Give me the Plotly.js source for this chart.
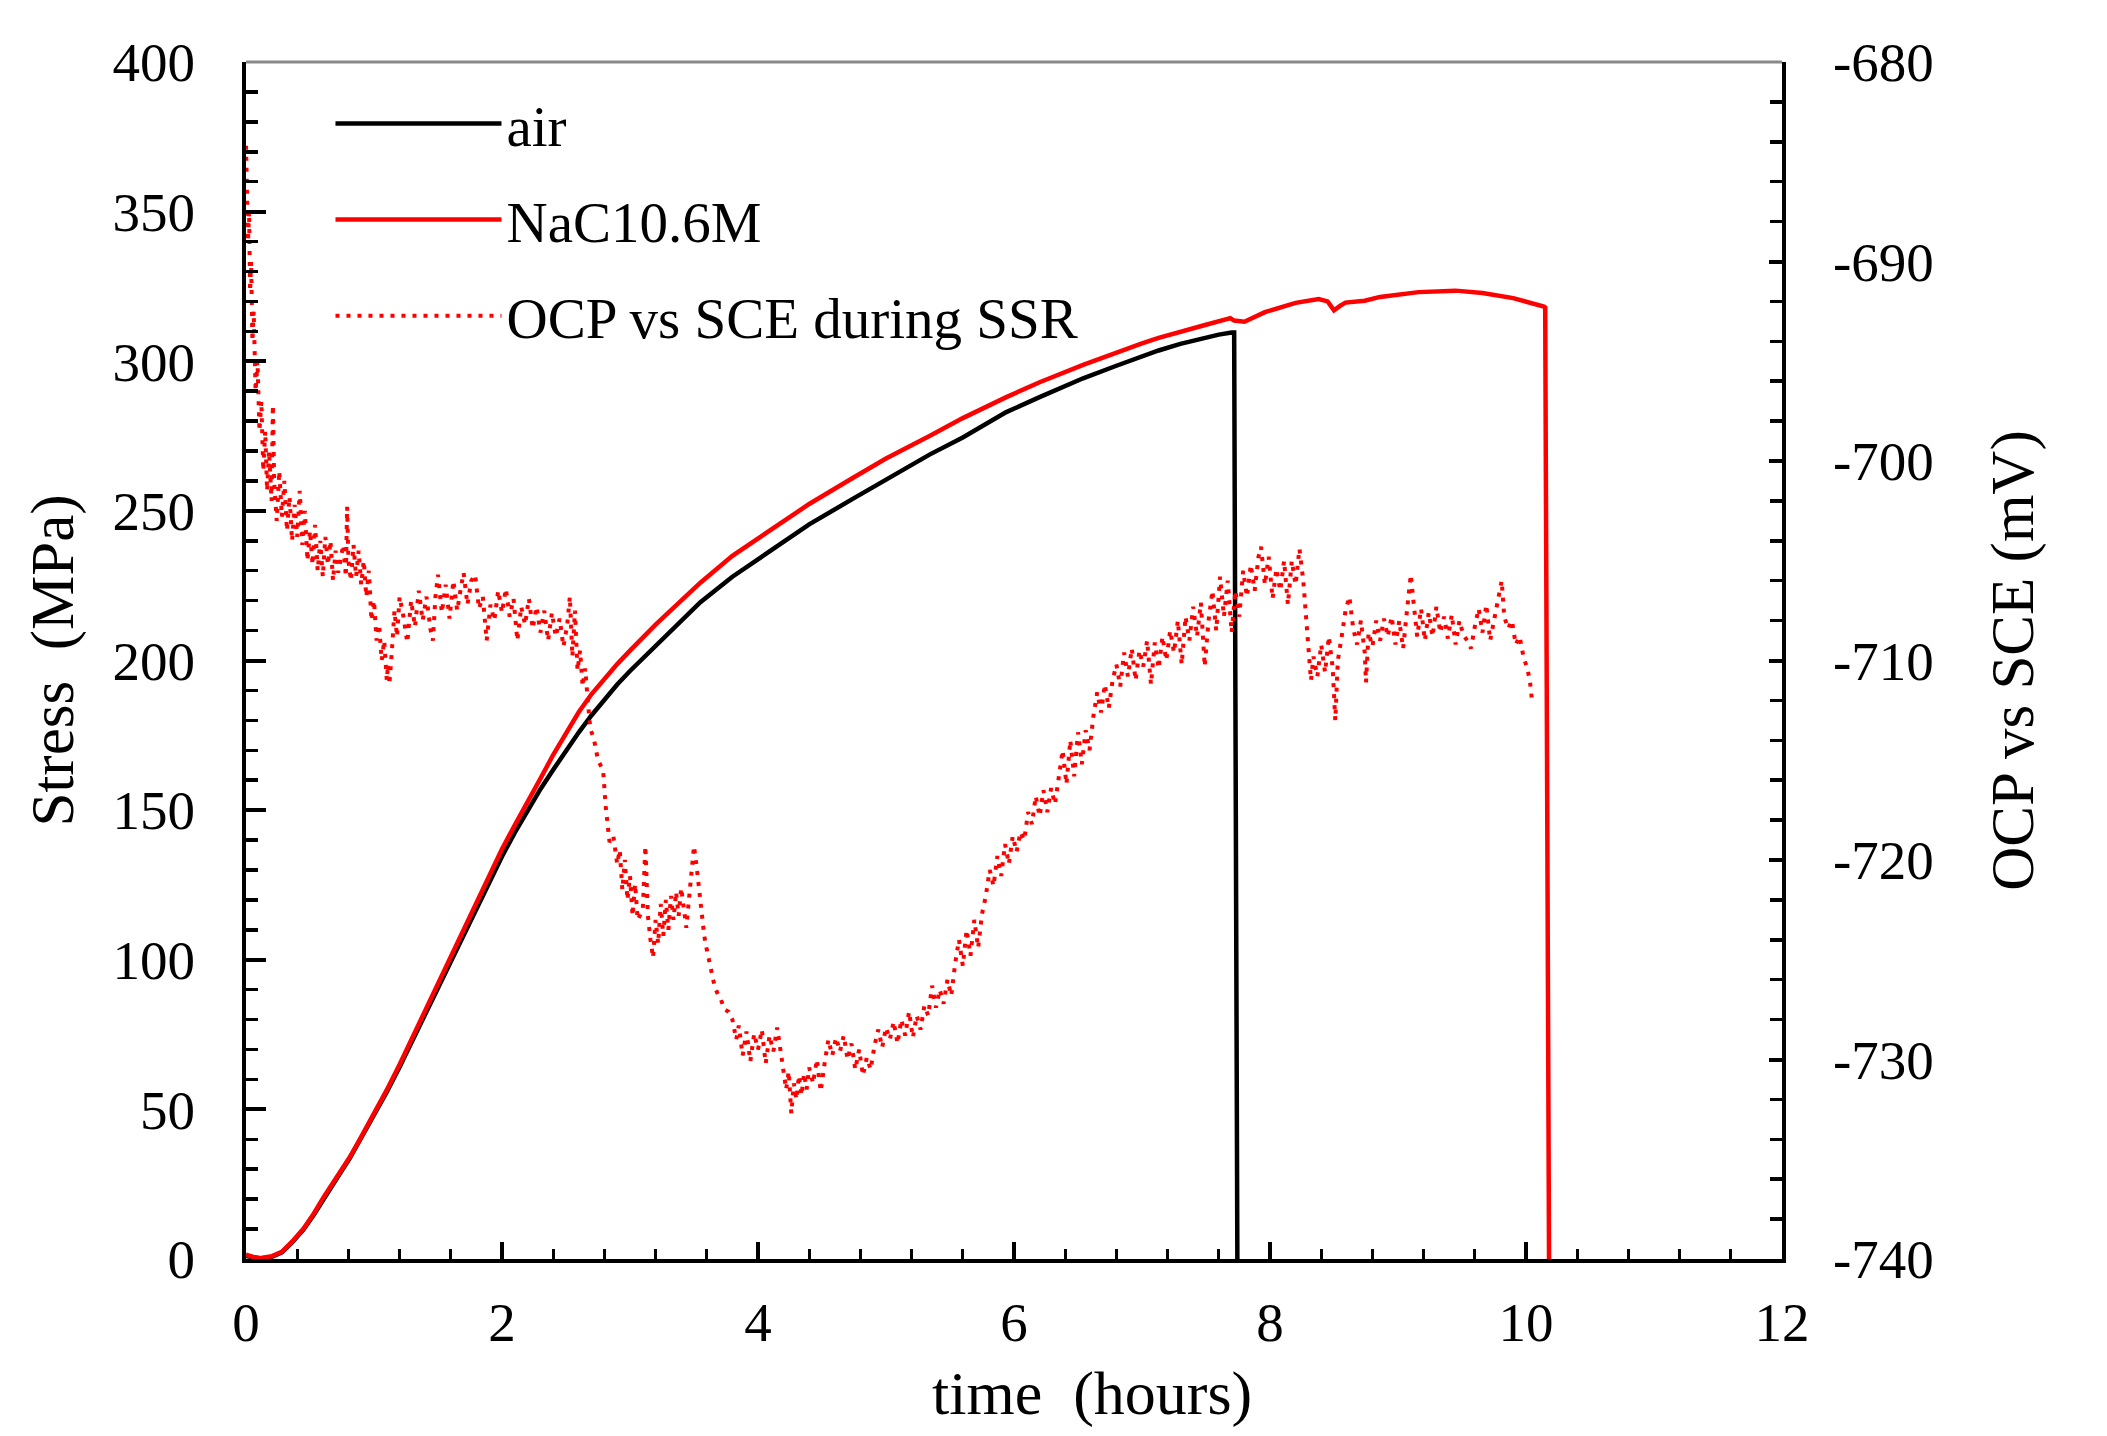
<!DOCTYPE html>
<html>
<head>
<meta charset="utf-8">
<script src="https://cdn.plot.ly/plotly-3.0.1.min.js"></script>
<style>
html,body{margin:0;padding:0;background:#fff;}
#chart{width:2107px;height:1436px;}
</style>
</head>
<body>
<div id="chart"></div>
<script>
// ---- DATA ----
const airTime = [0,0.06,0.11,0.2,0.28,0.36,0.45,0.53,0.61,0.71,
  0.81,0.9,1.0,1.1,1.2,1.3,1.4,1.5,1.6,1.7,
  1.8,1.9,2.0,2.1,2.2,2.3,2.4,2.5,2.6,2.7,
  2.8,2.9,3.0,3.2,3.4,3.55,3.8,4.14,4.4,4.74,
  5.0,5.34,5.6,5.94,6.2,6.54,6.8,7.0,7.13,7.3,
  7.45,7.6,7.70,7.72,7.745];
const airStress = [1.0,0.5,0.2,0.7,2.2,5.5,9.9,14.8,20.5,27.0,
  33.6,40.3,47.8,55.8,64.2,73.0,81.8,90.5,99.5,108.2,
  116.8,125.5,134.5,142.5,150.0,157.0,163.5,170.0,176.0,181.7,
  187.0,192.0,196.5,205.0,213.0,219.5,228.0,238.0,245.5,254.0,
  260.5,268.8,274.5,283.0,288.0,294.3,298.5,301.6,303.6,305.8,
  307.5,308.9,309.6,309.6,0];

const naclTime = [0,0.06,0.11,0.2,0.28,0.36,0.45,0.53,0.61,0.71,
  0.81,0.9,1.0,1.1,1.2,1.3,1.4,1.5,1.6,1.7,
  1.8,1.9,2.0,2.1,2.2,2.3,2.4,2.5,2.6,2.7,
  2.8,2.9,3.0,3.2,3.4,3.55,3.8,4.14,4.4,4.74,
  5.0,5.34,5.6,5.94,6.2,6.54,6.8,7.0,7.13,7.3,
  7.5,7.69,7.72,7.80,7.96,8.2,8.38,8.45,8.5,8.55,
  8.59,8.74,8.86,9.16,9.45,9.66,9.9,10.14,10.15,10.18];
const naclStress = [1.5,0.6,0.3,0.9,2.4,5.8,10.2,15.2,20.9,27.5,
  34.0,40.8,48.4,56.5,65.0,74.0,83.0,92.0,101.5,110.5,
  119.5,128.5,137.0,145.0,152.5,160.5,168.5,176.0,182.8,188.8,
  194.0,198.8,203.3,212.0,220.0,226.0,235.0,245.0,252.3,261.0,
  267.5,275.0,281.0,288.0,293.0,298.8,303.0,306.0,307.8,310.0,
  312.2,314.4,313.6,313.2,316.4,319.5,320.8,320.0,317.0,318.6,
  319.6,320.2,321.5,323.1,323.6,322.8,321.1,318.3,318.0,0];

const ocpTime = [0.000,0.008,0.016,0.024,0.032,0.040,0.050,0.060,0.075,0.090,
  0.105,0.120,0.135,0.150,0.165,0.180,0.200,0.210,0.220,0.240,
  0.260,0.280,0.300,0.320,0.340,0.360,0.380,0.400,0.420,0.440,
  0.460,0.480,0.500,0.520,0.540,0.560,0.580,0.600,0.620,0.640,
  0.660,0.680,0.700,0.720,0.760,0.780,0.790,0.800,0.820,0.840,
  0.860,0.880,0.900,0.920,0.940,0.960,0.980,1.000,1.020,1.040,
  1.060,1.080,1.100,1.110,1.120,1.140,1.160,1.180,1.200,1.23,
  1.26,1.29,1.32,1.35,1.38,1.41,1.44,1.46,1.48,1.50,
  1.53,1.56,1.59,1.62,1.65,1.68,1.70,1.73,1.76,1.79,
  1.82,1.85,1.88,1.91,1.94,1.97,2.00,2.03,2.06,2.09,
  2.12,2.15,2.18,2.21,2.24,2.27,2.30,2.33,2.36,2.39,
  2.42,2.45,2.48,2.51,2.53,2.55,2.57,2.59,2.61,2.63,
  2.65,2.67,2.69,2.72,2.75,2.79,2.81,2.84,2.87,2.90,
  2.92,2.94,2.96,2.98,3.00,3.02,3.04,3.06,3.10,3.12,
  3.14,3.16,3.18,3.20,3.22,3.24,3.26,3.28,3.30,3.32,
  3.34,3.36,3.38,3.40,3.42,3.44,3.46,3.48,3.50,3.52,
  3.54,3.56,3.58,3.60,3.63,3.66,3.69,3.71,3.74,3.77,
  3.80,3.83,3.85,3.88,3.91,3.94,3.97,4.00,4.03,4.06,
  4.09,4.12,4.15,4.18,4.20,4.22,4.24,4.26,4.28,4.30,
  4.32,4.34,4.36,4.38,4.40,4.43,4.46,4.49,4.52,4.55,
  4.58,4.61,4.64,4.67,4.70,4.73,4.76,4.79,4.82,4.85,
  4.88,4.91,4.94,4.97,5.00,5.03,5.06,5.09,5.12,5.15,
  5.18,5.21,5.24,5.27,5.30,5.33,5.36,5.39,5.42,5.45,
  5.48,5.51,5.54,5.57,5.60,5.63,5.66,5.69,5.72,5.75,
  5.78,5.81,5.84,5.87,5.90,5.93,5.96,5.99,6.02,6.05,
  6.08,6.11,6.14,6.17,6.20,6.23,6.26,6.29,6.32,6.35,
  6.38,6.41,6.44,6.47,6.50,6.53,6.56,6.59,6.62,6.65,
  6.68,6.71,6.74,6.77,6.80,6.83,6.86,6.89,6.92,6.95,
  6.98,7.01,7.04,7.07,7.10,7.13,7.16,7.19,7.22,7.25,
  7.28,7.31,7.34,7.37,7.40,7.43,7.46,7.49,7.52,7.55,
  7.58,7.61,7.64,7.67,7.70,7.73,7.76,7.79,7.82,7.85,
  7.88,7.91,7.93,7.96,7.99,8.02,8.05,8.08,8.11,8.14,
  8.17,8.20,8.23,8.26,8.28,8.30,8.32,8.34,8.37,8.40,
  8.43,8.46,8.49,8.51,8.53,8.56,8.59,8.62,8.65,8.68,
  8.71,8.74,8.75,8.77,8.80,8.83,8.86,8.89,8.92,8.95,
  8.98,9.01,9.04,9.07,9.10,9.12,9.15,9.18,9.21,9.24,
  9.27,9.30,9.33,9.36,9.39,9.42,9.45,9.48,9.51,9.54,
  9.57,9.60,9.63,9.66,9.69,9.72,9.75,9.78,9.81,9.83,
  9.86,9.89,9.92,9.95,9.98,10.01,10.03,10.05];
const ocpMv = [-684.2,-686.5,-689.0,-687.5,-691.5,-690.0,-694.0,-692.5,-696.5,-695.0,
  -698.5,-697.0,-700.5,-698.5,-701.5,-699.5,-702.0,-697.2,-701.0,-703.0,
  -700.5,-702.8,-701.0,-703.5,-701.8,-704.0,-702.2,-703.8,-701.5,-704.2,
  -702.5,-705.0,-703.5,-705.2,-703.2,-705.5,-704.0,-705.8,-703.8,-705.2,
  -704.0,-706.0,-704.5,-705.6,-704.2,-705.8,-702.3,-705.0,-706.0,-704.2,
  -705.8,-704.5,-706.2,-705.0,-706.8,-705.5,-708.0,-707.0,-709.0,-708.2,
  -710.0,-709.0,-711.0,-710.2,-711.2,-709.5,-707.5,-708.8,-706.8,-707.8,
  -709.1,-707.0,-708.3,-706.5,-708.0,-706.8,-708.4,-709.0,-706.8,-705.7,
  -707.6,-706.2,-707.9,-706.0,-707.5,-706.3,-705.6,-707.2,-706.0,-705.7,
  -707.4,-706.8,-709.0,-707.2,-708.0,-706.5,-707.6,-706.4,-707.8,-706.9,
  -709.0,-707.3,-708.2,-706.9,-708.4,-707.3,-708.6,-707.5,-709.0,-707.6,
  -708.8,-707.9,-709.3,-708.2,-706.8,-709.8,-707.5,-710.5,-709.5,-711.3,
  -710.4,-712.0,-713.4,-714.0,-715.0,-715.5,-717.3,-719.1,-718.8,-720.2,
  -719.5,-721.5,-720.0,-722.0,-720.8,-722.8,-721.2,-723.0,-722.5,-719.3,
  -722.8,-724.0,-724.9,-723.0,-724.2,-722.2,-723.8,-722.0,-723.5,-721.8,
  -723.0,-721.6,-722.8,-721.4,-722.6,-723.4,-722.0,-720.5,-719.3,-720.3,
  -721.5,-722.6,-723.8,-724.5,-725.5,-726.3,-726.8,-727.0,-727.5,-727.6,
  -728.0,-729.0,-728.3,-729.8,-728.6,-730.1,-728.7,-729.5,-728.5,-730.2,
  -728.8,-729.6,-728.4,-729.8,-730.5,-731.5,-730.6,-732.7,-731.2,-732.0,
  -730.8,-731.8,-730.7,-731.5,-730.4,-731.2,-730.0,-731.6,-730.2,-729.0,
  -729.8,-728.9,-729.6,-728.8,-730.0,-729.2,-730.5,-729.5,-730.8,-729.9,
  -730.5,-729.3,-728.5,-729.4,-728.4,-729.0,-728.1,-729.2,-728.0,-728.8,
  -727.6,-728.9,-727.8,-728.5,-727.3,-727.8,-726.3,-727.4,-726.5,-727.2,
  -726.0,-726.8,-725.2,-724.0,-725.3,-723.5,-724.8,-723.0,-724.4,-722.7,
  -721.8,-720.5,-721.3,-719.8,-720.8,-719.2,-720.2,-718.8,-719.6,-718.6,
  -719.0,-717.6,-718.2,-716.8,-717.8,-716.5,-717.6,-716.4,-717.2,-716.0,
  -714.5,-716.2,-714.0,-715.8,-713.6,-715.2,-713.5,-714.5,-712.8,-711.6,
  -712.6,-711.2,-712.4,-711.0,-710.2,-711.3,-709.6,-710.8,-709.4,-711.0,
  -709.5,-710.3,-709.0,-711.2,-709.1,-710.4,-708.8,-710.0,-708.5,-709.6,
  -708.0,-710.2,-707.8,-709.0,-707.3,-708.8,-707.1,-710.3,-708.0,-706.5,
  -708.5,-705.8,-707.8,-706.0,-708.6,-706.5,-707.8,-705.5,-706.8,-705.2,
  -706.5,-704.8,-704.3,-706.2,-704.8,-706.9,-705.4,-706.5,-705.0,-707.2,
  -705.0,-706.2,-704.4,-706.0,-707.8,-709.5,-711.0,-709.8,-710.8,-709.2,
  -710.6,-708.8,-710.4,-713.0,-710.0,-708.8,-707.5,-706.8,-708.4,-709.2,
  -708.0,-709.6,-711.1,-708.6,-709.3,-708.0,-709.0,-707.9,-708.8,-707.8,
  -709.2,-708.0,-709.4,-707.5,-705.7,-707.0,-708.8,-707.4,-709.0,-707.6,
  -708.8,-707.3,-708.6,-707.8,-708.9,-707.7,-709.2,-708.0,-708.7,-709.0,
  -709.4,-708.3,-707.4,-708.6,-707.2,-709.0,-708.0,-707.0,-706.0,-707.8,
  -708.4,-708.0,-709.2,-708.8,-709.8,-710.4,-711.0,-712.2];

const seriesNames = ['air', 'NaC10.6M', 'OCP vs SCE during SSR'];
const xTickVals = [0, 2, 4, 6, 8, 10, 12];
const yTickVals = [0, 50, 100, 150, 200, 250, 300, 350, 400];
const y2TickVals = [-740, -730, -720, -710, -700, -690, -680];
const y2TickText = ['-740', '-730', '-720', '-710', '-700', '-690', '-680'];
const xTitle = 'time \u00a0(hours)';
const yTitle = 'Stress \u00a0(MPa)';
const y2Title = 'OCP vs SCE (mV)';

// ---- CHART ----
const FONT = '"Liberation Serif", "Times New Roman", Times, serif';

const traces = [
  {x: airTime, y: airStress, name: seriesNames[0], type: 'scatter', mode: 'lines',
   line: {color: '#000000', width: 4.5}, legendgroup: 'a', yaxis: 'y'},
  {x: naclTime, y: naclStress, name: seriesNames[1], type: 'scatter', mode: 'lines',
   line: {color: '#ff0000', width: 4.5}, legendgroup: 'b', yaxis: 'y'},
  {x: ocpTime, y: ocpMv, name: seriesNames[2], type: 'scatter', mode: 'lines',
   line: {color: '#ff0000', width: 4, dash: '4px,7px'}, legendgroup: 'c', yaxis: 'y2'}
];

const axisCommon = {
  showgrid: false, zeroline: false, showline: true, linecolor: '#000', linewidth: 4,
  ticks: 'inside', tickcolor: '#000', tickfont: {family: FONT, size: 55, color: '#000'}
};

const layout = {
  width: 2107, height: 1436,
  margin: {l: 246, r: 325, t: 62, b: 177, pad: 0},
  paper_bgcolor: '#fff', plot_bgcolor: '#fff',
  font: {family: FONT, size: 55, color: '#000'},
  showlegend: true,
  legend: {x: 0.055, y: 0.985, xanchor: 'left', yanchor: 'top', bgcolor: 'rgba(0,0,0,0)',
           borderwidth: 0, font: {family: FONT, size: 57, color: '#000'},
           itemwidth: 166, tracegroupgap: 19},
  xaxis: Object.assign({}, axisCommon, {
    range: [0, 12], tickmode: 'array', tickvals: xTickVals,
    ticklen: 17, tickwidth: 3.5, ticklabelstandoff: 12,
    minor: {tickmode: 'linear', tick0: 0, dtick: 0.4, ticks: 'inside', ticklen: 10, tickwidth: 3, tickcolor: '#000', showgrid: false}
  }),
  yaxis: Object.assign({}, axisCommon, {
    range: [0, 400], tickmode: 'array', tickvals: yTickVals,
    ticklen: 20, tickwidth: 4, ticklabelstandoff: 36,
    minor: {tickmode: 'linear', tick0: 0, dtick: 10, ticks: 'inside', ticklen: 12, tickwidth: 3.5, tickcolor: '#000', showgrid: false},
    title: {text: yTitle, font: {family: FONT, size: 61, color: '#000'}, standoff: 20}
  }),
  yaxis2: Object.assign({}, axisCommon, {
    range: [-740, -680], overlaying: 'y', side: 'right', anchor: 'x',
    tickmode: 'array', tickvals: y2TickVals, ticktext: y2TickText,
    ticklen: 13, tickwidth: 4, ticklabelstandoff: 36,
    minor: {tickmode: 'linear', tick0: -740, dtick: 2, ticks: 'inside', ticklen: 12, tickwidth: 3.5, tickcolor: '#000', showgrid: false},
    title: {text: y2Title, font: {family: FONT, size: 61, color: '#000'}, standoff: 58}
  }),
  shapes: [
    {type: 'line', xref: 'paper', yref: 'paper', x0: 0, x1: 1, y0: 1, y1: 1,
     line: {color: '#8a8a8a', width: 3}, layer: 'above'}
  ],
  annotations: [
    {text: xTitle, xref: 'paper', yref: 'paper', x: 0.551, y: -0.112,
     xanchor: 'center', yanchor: 'middle', showarrow: false,
     font: {family: FONT, size: 62, color: '#000'}}
  ]
};

Plotly.newPlot('chart', traces, layout, {displayModeBar: false, staticPlot: true});
</script>
</body>
</html>
